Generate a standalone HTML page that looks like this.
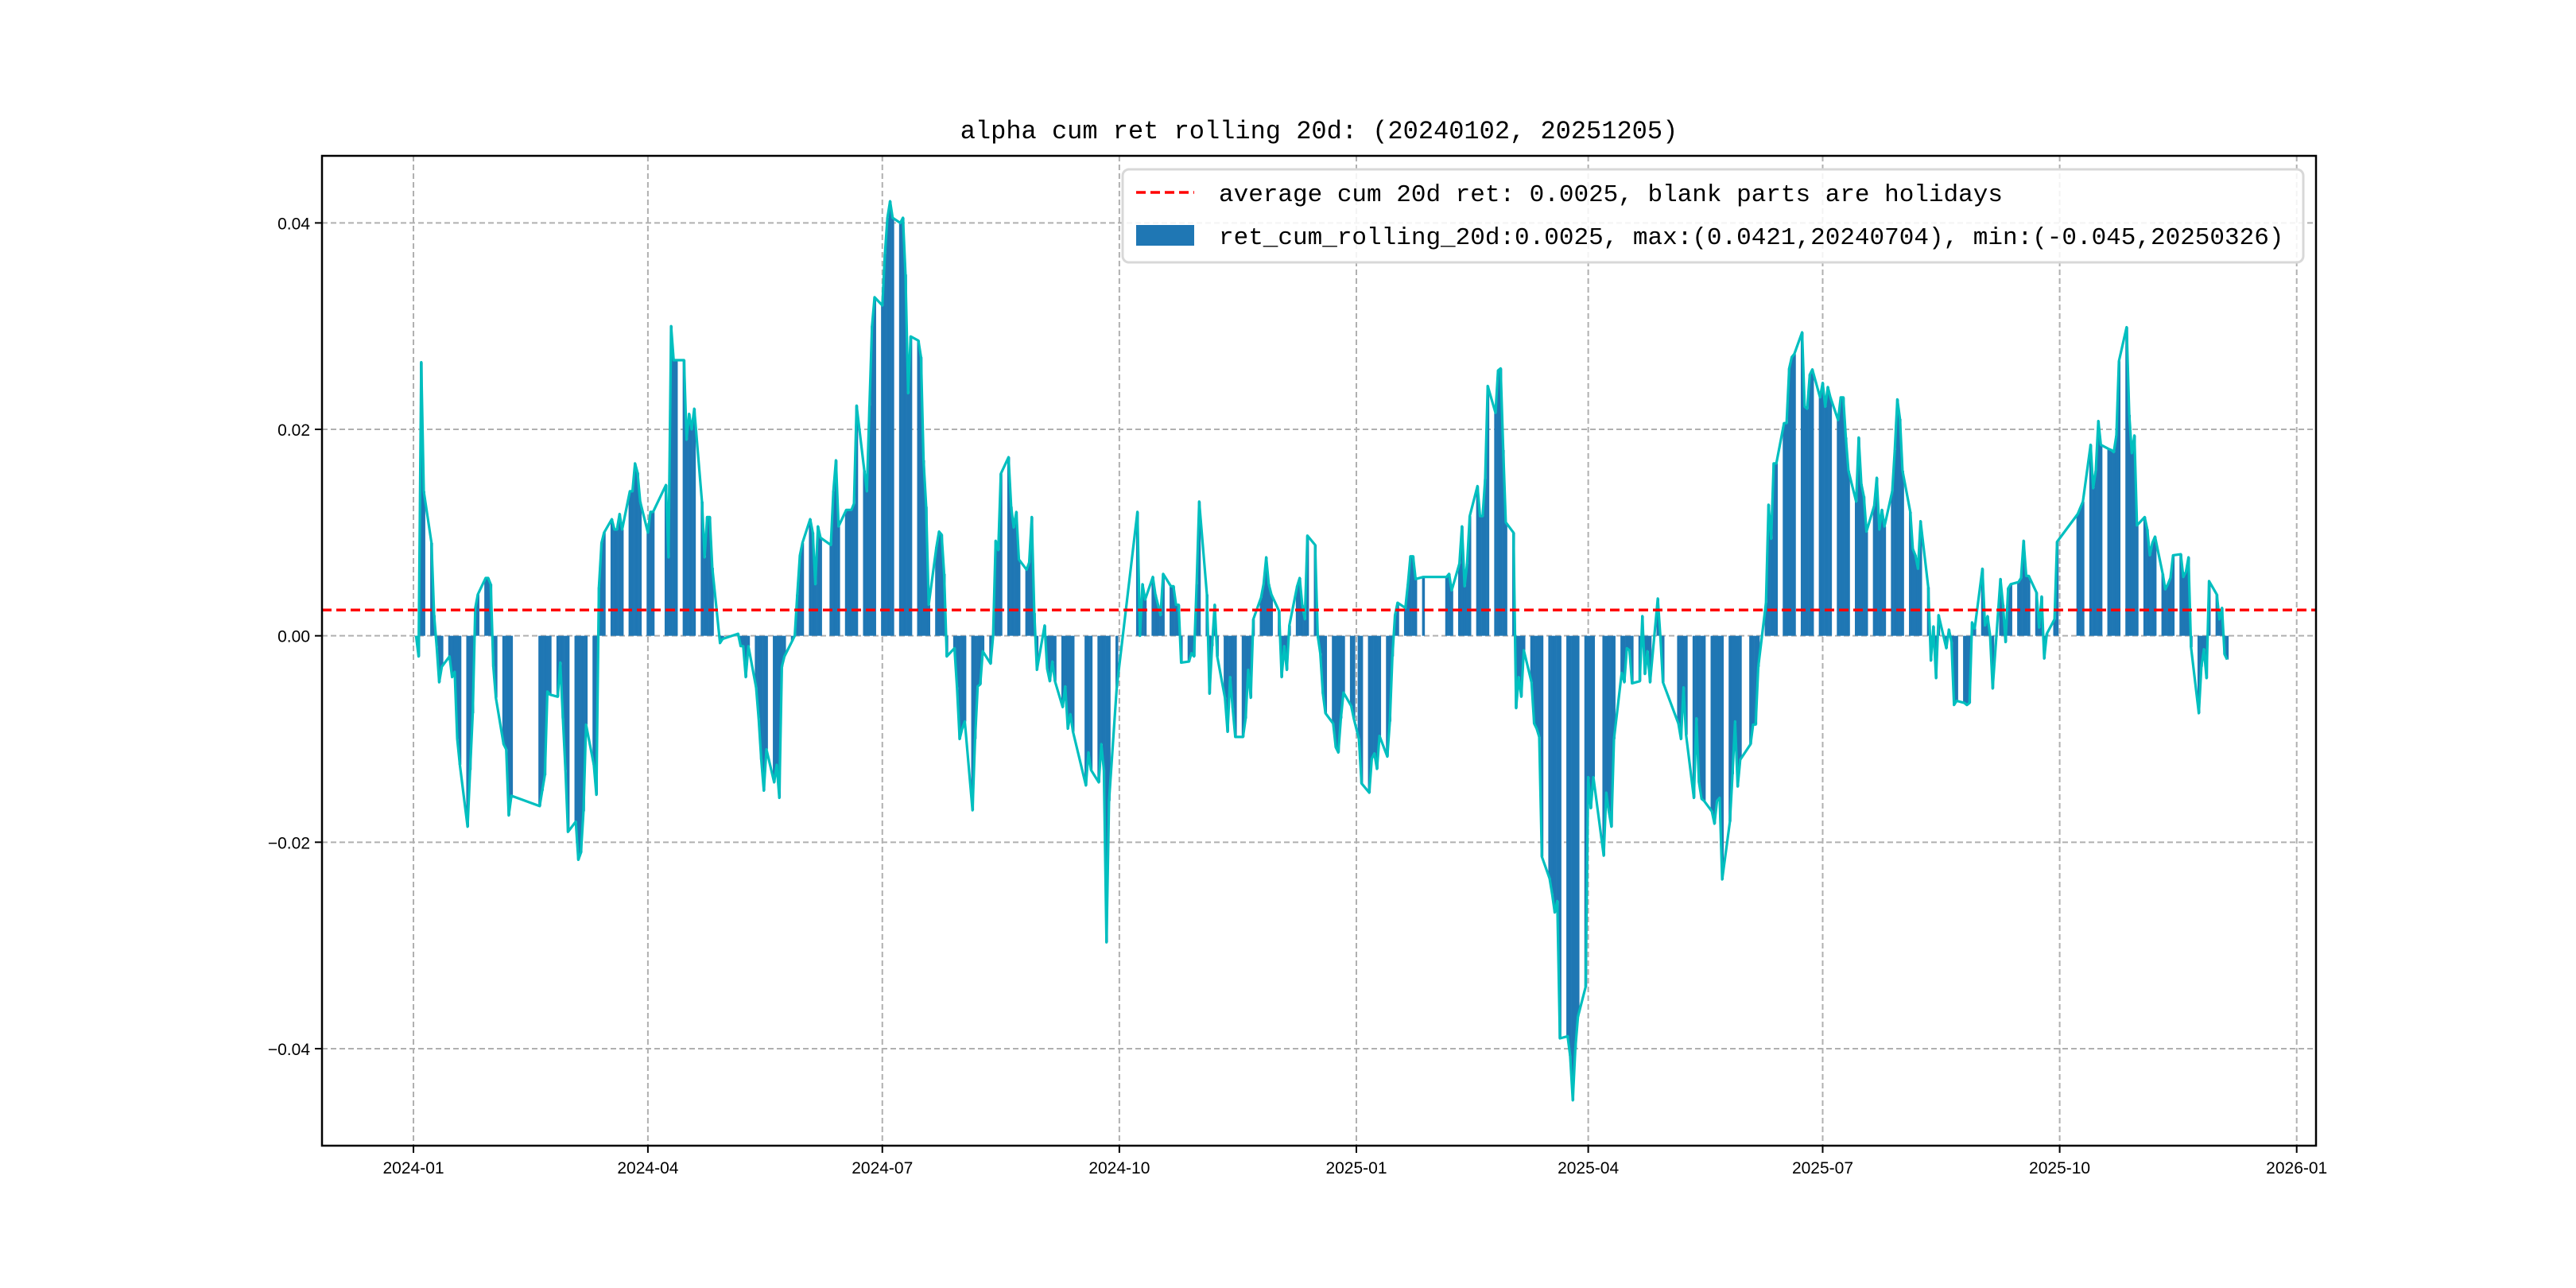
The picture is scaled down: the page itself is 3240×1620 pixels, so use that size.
<!DOCTYPE html>
<html><head><meta charset="utf-8"><style>
html,body{margin:0;padding:0;background:#fff;}
svg{display:block;}
</style></head><body>
<svg id="chart" width="3240" height="1620" xmlns="http://www.w3.org/2000/svg">
<rect x="0" y="0" width="3240" height="1620" fill="#fff"/>
<text x="1659" y="174" text-anchor="middle" font-family="Liberation Mono, monospace" font-size="32" fill="#000">alpha cum ret rolling 20d: (20240102, 20251205)</text>
<g id="grid"></g>
<g id="bars"></g>
<g id="lines"></g>
<g id="axes"></g>
<g id="legend">
<rect x="1412" y="213" width="1485" height="117" rx="8" fill="#fff" fill-opacity="0.85" stroke="#d8d8d8" stroke-width="3"/>
<line x1="1429" y1="242" x2="1502" y2="242" stroke="#ff0000" stroke-width="3.5" stroke-dasharray="12,6"/>
<text x="1533" y="253" font-family="Liberation Mono, monospace" font-size="31" fill="#000">average cum 20d ret: 0.0025, blank parts are holidays</text>
<rect x="1429" y="283" width="73" height="26" fill="#1f77b4"/>
<text x="1533" y="307" font-family="Liberation Mono, monospace" font-size="31" fill="#000">ret_cum_rolling_20d:0.0025, max:(0.0421,20240704), min:(-0.045,20250326)</text>
</g>
</svg>
<script>
const holidays = [0,39,42,43,44,45,46,94,95,121,122,123,161,259,260,274,275,276,277,280,366,393,394,395,396,399,400,459,486,487,490,518,639,640,641,644,645];
const values = [
0.000,-0.002,0.0265,0.014,
0.009,0.002,-0.001,-0.0045,-0.003,
-0.002,-0.004,-0.0035,-0.010,-0.0125,
-0.0185,-0.013,-0.0075,0.0027,0.004,
0.0056,0.0056,0.005,-0.003,-0.006,
-0.0105,-0.011,-0.0174,-0.0155,
-0.0165,-0.015,-0.0135,-0.0054,-0.0057,
-0.0059,-0.0026,-0.008,-0.013,-0.019,
-0.018,-0.0217,-0.021,-0.017,-0.0086,
-0.0125,-0.0154,0.0047,0.009,0.010,
0.0113,0.0103,0.0103,0.0118,0.0103,
0.014,0.014,0.0167,0.0158,0.013,
0.010,0.012,0.012,
0.0146,0.0076,0.030,0.0267,0.0267,
0.0267,0.019,0.0215,0.020,0.022,
0.013,0.0076,0.0115,0.0115,0.0066,
-0.0007,-0.0003,
0.0002,-0.001,-0.001,-0.004,-0.001,
-0.005,-0.008,-0.012,-0.015,-0.011,
-0.0142,-0.0125,-0.0157,-0.003,-0.002,
-0.0005,0.000,0.004,0.0078,0.009,
0.0113,0.010,0.005,0.0106,0.0095,
0.0088,0.014,0.017,0.0106,
0.0122,0.0122,0.0122,0.0128,0.0223,
0.016,0.014,0.0223,0.030,0.0328,
0.032,0.037,0.0405,0.0421,0.0405,
0.040,0.0405,0.035,0.0235,0.029,
0.0286,0.027,0.017,0.0125,0.003,
0.0086,0.0101,0.0098,0.006,-0.002,
-0.0012,-0.005,-0.010,-0.009,-0.0083,
-0.0169,-0.010,-0.0049,-0.0047,-0.0015,
-0.0027,0.000,0.0092,0.0083,0.0157,
0.0173,0.0125,0.0105,0.012,0.0074,
0.0064,0.0071,0.0115,0.0022,-0.0033,
0.001,-0.0032,-0.0044,-0.0025,-0.0044,
-0.0069,-0.0049,-0.009,-0.0076,-0.0093,
-0.0145,-0.0113,-0.013,
-0.0142,-0.0105,-0.013,-0.0297,-0.016,
-0.005,
0.012,0.000,0.005,0.0035,
0.0057,0.004,0.003,0.002,0.006,
0.0048,0.0048,0.003,0.003,-0.0026,
-0.0025,-0.0017,-0.002,0.005,0.013,
0.004,-0.0056,-0.001,0.003,-0.002,
-0.006,-0.0093,-0.004,-0.007,-0.0098,
-0.0098,-0.008,-0.0033,-0.006,0.0016,
0.0037,0.005,0.0076,0.005,0.004,
0.0024,-0.004,-0.001,-0.0033,0.001,
0.0048,0.0056,0.003,0.0016,0.0097,
0.0088,0.000,-0.0017,-0.0056,-0.0075,
-0.0085,-0.0108,-0.0113,-0.008,-0.0055,
-0.0068,-0.008,-0.010,-0.0143,
-0.0152,-0.0119,-0.0114,-0.0129,-0.0097,
-0.0117,-0.0083,-0.002,0.002,0.0032,
0.0027,0.005,0.0077,0.0077,0.0055,
0.0057,
0.0057,0.006,0.0044,
0.007,0.0106,0.0048,0.007,0.0116,
0.0145,0.0116,0.0116,0.0152,0.0242,
0.0216,0.0257,0.0259,0.018,0.011,
0.010,-0.007,-0.004,-0.0059,-0.0014,
-0.0045,-0.0085,-0.009,-0.0098,-0.0214,
-0.0235,-0.025,-0.0268,-0.0257,-0.039,
-0.0388,-0.0407,-0.045,-0.040,-0.0369,
-0.034,-0.0137,-0.0167,-0.0137,
-0.0213,-0.0152,-0.017,-0.0185,-0.010,
-0.0036,-0.0045,-0.0012,-0.0014,-0.0046,
-0.0044,0.0019,-0.0037,-0.0015,-0.0045,
0.0036,0.000,-0.0045,
-0.0085,-0.010,-0.005,-0.0096,
-0.0157,-0.008,-0.0142,-0.0158,-0.016,
-0.017,-0.0182,-0.016,-0.0157,-0.0236,
-0.018,-0.0134,-0.0083,-0.0146,-0.012,
-0.0105,-0.0086,-0.0086,-0.003,
0.0032,0.0127,0.0094,0.0167,0.0167,
0.0206,0.0206,0.0259,0.027,0.0273,
0.0294,0.0222,0.022,0.0253,0.0258,
0.0231,0.0245,0.0222,0.0241,0.0231,
0.0209,0.0231,0.0231,0.0192,0.016,
0.013,0.0192,0.0147,0.0135,0.0101,
0.0126,0.0153,0.0103,0.0122,0.0106,
0.014,0.018,0.0229,0.021,0.016,
0.012,0.0084,0.0078,0.0065,0.0111,
0.0047,-0.0024,0.0009,-0.0041,0.002,
-0.0012,0.0006,-0.0006,-0.0067,-0.0063,
-0.0065,-0.0067,-0.0065,0.0013,0.0007,
0.0065,0.001,0.0019,0.000,-0.0051,
0.0055,0.003,-0.0006,0.0046,0.005,
0.0052,0.0056,0.0092,0.0058,0.0058,
0.0042,0.0008,0.0038,-0.0022,0.0002,
0.0016,0.0091,
0.0118,0.0124,0.013,
0.0185,0.0143,0.016,0.0208,0.0185,
0.0181,0.018,0.0178,0.0194,0.0266,
0.0299,0.0214,0.0177,0.0194,0.0107,
0.0115,0.0103,0.0078,0.009,0.0096,
0.006,0.0045,0.005,0.0056,0.0078,
0.0079,0.0057,0.0062,0.0076,-0.0011,
-0.0075,-0.003,-0.0013,-0.0041,0.0053,
0.004,0.0016,0.0027,-0.0018,-0.0023
];
const averageRet = 0.0025;
const yTicks = [0.04,0.02,0.00,-0.02,-0.04];
const yTickLabels = ["0.04","0.02","0.00","\u22120.02","\u22120.04"];
const xTickDays = [0,91,182,274,366,456,547,639,731];
const xTickLabels = ["2024-01","2024-04","2024-07","2024-10","2025-01","2025-04","2025-07","2025-10","2026-01"];

const NS="http://www.w3.org/2000/svg";
const L=405,R=2913,T=196,B=1441;
const dMin=-35.5, dMax=738.5, vMin=-0.0494, vMax=0.0465;
function xs(d){return L+(d-dMin)/(dMax-dMin)*(R-L);}
function ys(v){return B-(v-vMin)/(vMax-vMin)*(B-T);}
function mk(tag,attrs,parent){const e=document.createElementNS(NS,tag);for(const k in attrs)e.setAttribute(k,attrs[k]);parent.appendChild(e);return e;}

// trading calendar
const hol=new Set(holidays);
const days=[];
for(let d=1;d<=704;d++){if(d%7<5&&!hol.has(d))days.push(d);}
const n=Math.min(days.length,values.length);

const grid=document.getElementById('grid');
xTickDays.forEach((d,i)=>{
  const g=mk('line',{x1:xs(d),x2:xs(d),y1:T,y2:B,stroke:'#b0b0b0','stroke-width':2,'stroke-dasharray':'7,4'},grid);
  
  
});
yTicks.forEach((v,i)=>{
  const g=mk('line',{x1:L,x2:R,y1:ys(v),y2:ys(v),stroke:'#b0b0b0','stroke-width':2,'stroke-dasharray':'7,4'},grid);
  
  
});

const bars=document.getElementById('bars');
const bw=(R-L)/(dMax-dMin)*1.0;
for(let i=0;i<n;i++){
  const x=xs(days[i]),y0=ys(0),y1=ys(values[i]);
  const r=mk('rect',{x:x-bw/2,y:Math.min(y0,y1),width:bw+0.3,height:Math.max(0.5,Math.abs(y1-y0)),fill:'#1f77b4'},bars);
  
  
}

const lines=document.getElementById('lines');
let pts=[];
for(let i=0;i<n;i++)pts.push(xs(days[i]).toFixed(1)+','+ys(values[i]).toFixed(1));
const pl=mk('polyline',{points:pts.join(' '),fill:'none',stroke:'#00bfbf','stroke-width':3.2,'stroke-linejoin':'round'},lines);


const av=mk('line',{x1:L,x2:R,y1:ys(averageRet),y2:ys(averageRet),stroke:'#ff0000','stroke-width':3.5,'stroke-dasharray':'12,6'},lines);



const axes=document.getElementById('axes');
const fr=mk('rect',{x:L,y:T,width:R-L,height:B-T,fill:'none',stroke:'#000','stroke-width':2.5},axes);


xTickDays.forEach((d,i)=>{
  const t=mk('line',{x1:xs(d),x2:xs(d),y1:B,y2:B+9,stroke:'#000','stroke-width':2},axes);
  
  
  const tx=mk('text',{x:xs(d),y:B+35,'text-anchor':'middle','font-family':'Liberation Sans, sans-serif','font-size':21,fill:'#000'},axes);
  tx.textContent=xTickLabels[i];
  
  
});
yTicks.forEach((v,i)=>{
  const t=mk('line',{x1:L-9,x2:L,y1:ys(v),y2:ys(v),stroke:'#000','stroke-width':2},axes);
  
  
  const tx=mk('text',{x:L-15,y:ys(v)+8,'text-anchor':'end','font-family':'Liberation Sans, sans-serif','font-size':21,fill:'#000'},axes);
  tx.textContent=yTickLabels[i];
  
  
});
</script>
</body></html>
